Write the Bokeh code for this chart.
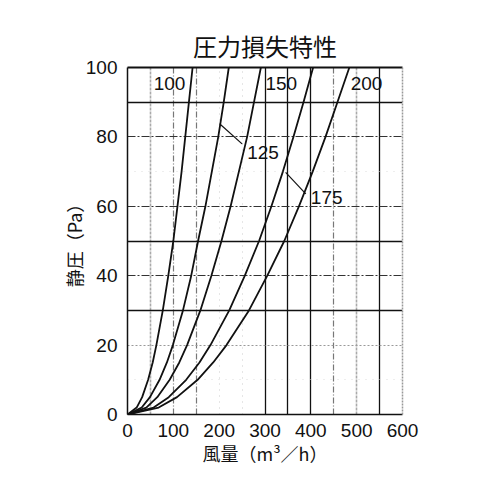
from bokeh.plotting import figure
from bokeh.models import Range1d, LinearAxis, Grid, FixedTicker
from bokeh.core.properties import value
from bokeh.embed import file_html
from bokeh.resources import INLINE

# static pressure levels (Pa) and air flow (m3/h)
pressure = [0, 2, 5, 10, 15, 20, 30, 40, 50, 60, 70, 80, 90, 100]
flow_100 = [0, 20, 32, 45, 55, 63, 77, 89, 100, 109, 118, 126, 134, 142]
flow_125 = [0, 31, 49, 70, 86, 99, 121, 139, 154, 170, 184, 198, 210, 221]
flow_150 = [0, 41, 65, 92, 113, 130, 159, 183, 205, 225, 243, 261, 276, 291]
flow_175 = [0, 57, 90, 128, 157, 181, 222, 256, 287, 314, 339, 362, 384, 405]
flow_200 = [0, 68, 108, 153, 187, 216, 265, 305, 342, 374, 404, 432, 458, 484]

x_ticks = [0, 100, 200, 300, 400, 500, 600]
y_ticks = [0, 20, 40, 60, 80, 100]

curve_names = ["100", "125", "150", "175", "200"]

NUM_FONT = "Liberation Sans"
JP_FONT = "Noto Sans CJK JP"

p = figure(width=492, height=492, output_backend="svg", toolbar_location=None,
           x_range=Range1d(0, 600), y_range=Range1d(0, 100),
           min_border_left=127, min_border_right=90,
           min_border_top=67, min_border_bottom=78,
           title="圧力損失特性")
p.title.align = "center"
p.title.text_font = JP_FONT
p.title.text_font_size = "24px"
p.title.text_font_style = "normal"
p.title.text_color = "#111111"
p.title.offset = 4
p.title.standoff = 9
p.outline_line_color = None
p.grid.visible = False

# grid, mimicking the mixed line styles of the scanned sheet
grids = [
    (0, [300, 350, 400, 550], "#111111", 1.3, "solid"),
    (0, [100, 150, 450], "#777777", 1.2, "6 2 1 2"),
    (0, [50, 500], "#aaaaaa", 1.6, "3 1"),
    (0, [200, 250], "#cccccc", 1.0, "1 5"),
    (1, [30, 50, 90], "#111111", 1.3, "solid"),
    (1, [40, 60, 80], "#333333", 1.2, "8 2 2 2"),
    (1, [20], "#999999", 1.2, "2 2"),
    (1, [10, 70], "#dddddd", 1.0, "1 6"),
]
for dim, ticks, color, width, dash in grids:
    p.add_layout(Grid(dimension=dim, ticker=FixedTicker(ticks=ticks),
                      grid_line_color=color, grid_line_width=width,
                      grid_line_dash=dash))

lines = [flow_100, flow_125, flow_150, flow_175, flow_200]
for flow in lines:
    p.line(flow, pressure, line_color="#111111", line_width=1.8)

# curve labels
p.text(x=[57, 301, 487], y=[95.4, 95.4, 95.4],
       text=[curve_names[0], curve_names[2], curve_names[4]],
       text_font=value(NUM_FONT), text_font_size="19px",
       text_baseline="middle", text_align="left", text_color="#111111")
p.text(x=[261, 400], y=[75.6, 62.4],
       text=[curve_names[1], curve_names[3]],
       text_font=value(NUM_FONT), text_font_size="19px",
       text_baseline="middle", text_align="left", text_color="#111111")
p.segment(x0=[201, 345], y0=[83.8, 69.8], x1=[250, 389], y1=[78.0, 63.6],
          line_color="#111111", line_width=1.2)

for ax in (p.xaxis[0], p.yaxis[0]):
    ax.axis_line_color = "#111111"
    ax.axis_line_width = 1.5
    ax.major_tick_line_color = None
    ax.minor_tick_line_color = None
    ax.major_label_text_font = NUM_FONT
    ax.major_label_text_font_size = "19px"
    ax.major_label_text_color = "#111111"
    ax.axis_label_text_font = JP_FONT
    ax.axis_label_text_font_size = "18px"
    ax.axis_label_text_font_style = "normal"
    ax.axis_label_text_color = "#111111"

p.xaxis.ticker = FixedTicker(ticks=x_ticks)
p.yaxis.ticker = FixedTicker(ticks=y_ticks)
p.xaxis.major_label_standoff = 3
p.yaxis.major_label_standoff = 4
p.xaxis.axis_label = "風量（m³／h）"
p.yaxis.axis_label = "静圧（Pa）"
p.xaxis.axis_label_standoff = 0
p.yaxis.axis_label_standoff = -4

top = LinearAxis(ticker=FixedTicker(ticks=[]), axis_line_color="#111111",
                 axis_line_width=2, major_tick_line_color=None,
                 minor_tick_line_color=None, major_label_text_color=None)
p.add_layout(top, "above")
right = LinearAxis(ticker=FixedTicker(ticks=[]), axis_line_color="#999999",
                   axis_line_width=1.5, axis_line_dash="2 1",
                   major_tick_line_color=None, minor_tick_line_color=None,
                   major_label_text_color=None)
p.add_layout(right, "right")

open("out.html", "w").write(file_html(p, INLINE))
